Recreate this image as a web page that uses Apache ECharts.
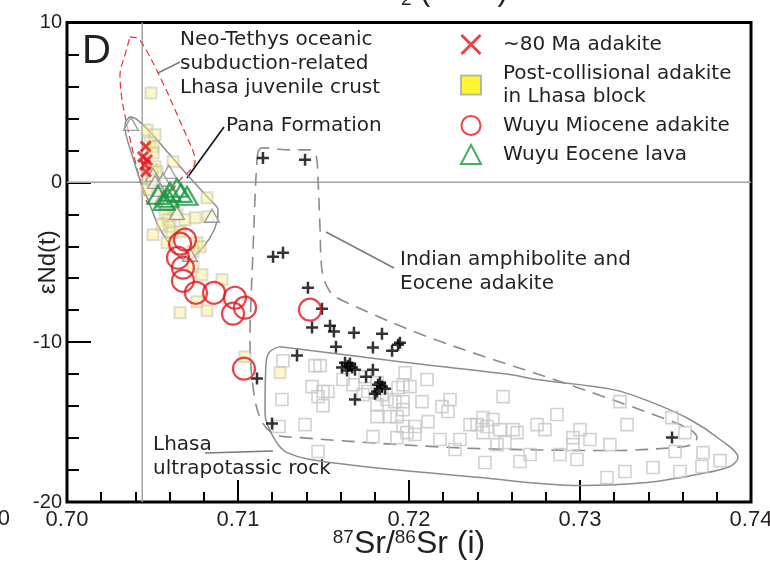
<!DOCTYPE html>
<html>
<head>
<meta charset="utf-8">
<script src="https://cdn.jsdelivr.net/npm/echarts@6/dist/echarts.min.js"></script>
<style>
  html, body { margin: 0; padding: 0; background: #fff; }
  #chart { width: 770px; height: 568px; }
</style>
</head>
<body>
<div id="chart"></div>
<script>
// 87Sr/86Sr(i) vs eNd(t) discrimination plot, panel D

const xTicks = [0.70, 0.71, 0.72, 0.73, 0.74];
const yTicks = [-20, -10, 0, 10];

// ~80 Ma adakite
const adakite80 = [[0.70460, 2.24], [0.70444, 1.59], [0.70468, 1.40], [0.70456, 1.09], [0.70462, 0.66]];

// Post-collisional adakite in Lhasa block
const postCollisional = [
  [0.70491, 5.59], [0.70468, 3.28], [0.70515, 2.97], [0.70485, 2.47], [0.70503, 2.22],
  [0.70503, 1.84], [0.70620, 1.28], [0.70515, 0.97], [0.70497, 0.78], [0.70526, 0.66],
  [0.70474, 0.28], [0.70497, 0.16], [0.70468, -0.47], [0.70544, -0.47], [0.70591, -1.28],
  [0.70620, -1.72], [0.70643, -2.03], [0.70573, -1.91], [0.70591, -2.34], [0.70556, -2.66],
  [0.70602, -2.78], [0.70614, -3.16], [0.70503, -3.28], [0.70585, -3.78], [0.70661, -3.09],
  [0.70690, -2.34], [0.70749, -2.22], [0.70825, -2.16], [0.70819, -0.97], [0.70760, -3.78],
  [0.70778, -4.03], [0.70737, -4.34], [0.70737, -5.28], [0.70789, -5.78], [0.70906, -6.09],
  [0.70661, -8.16], [0.70819, -8.03], [0.70760, -7.47], [0.71041, -10.91], [0.71246, -11.91]
];

// Wuyu Miocene adakite
const wuyuMiocene = [
  [0.70690, -3.59], [0.70661, -3.84], [0.70649, -4.72], [0.70678, -5.34], [0.70678, -6.16],
  [0.70754, -6.91], [0.70860, -6.91], [0.70982, -7.22], [0.71041, -7.84], [0.70971, -8.22],
  [0.71421, -7.97], [0.71035, -11.66]
];

// Wuyu Eocene lava
const wuyuEocene = [
  [0.70532, -0.78], [0.70567, -1.16], [0.70602, -0.59], [0.70643, -0.34], [0.70667, -0.66],
  [0.70702, -0.84], [0.70591, -0.97]
];

// Pana Formation
const panaFormation = [
  [0.70374, 3.66], [0.70503, 0.47], [0.70596, 0.66], [0.70561, 0.16], [0.70515, 0.03],
  [0.70556, -0.97], [0.70585, -1.28], [0.70643, -1.91], [0.70848, -2.09], [0.70719, -4.53],
  [0.70544, -0.47]
];

// Indian amphibolite and Eocene adakite
const indianAmphibolite = [
  [0.71146, 1.53], [0.71392, 1.41], [0.71205, -4.66], [0.71263, -4.41], [0.71409, -6.59],
  [0.71491, -7.91], [0.71433, -9.09], [0.71538, -8.97], [0.71561, -9.34], [0.71678, -9.41],
  [0.71842, -9.47], [0.71573, -10.28], [0.71789, -10.34], [0.71901, -10.53], [0.71947, -10.03],
  [0.71936, -10.16], [0.71345, -10.84], [0.71608, -11.59], [0.71626, -11.28], [0.71643, -11.47],
  [0.71655, -11.34], [0.71667, -11.59], [0.71684, -11.72], [0.71637, -11.78], [0.71789, -11.72],
  [0.71749, -12.16], [0.71819, -12.66], [0.71830, -12.53], [0.71842, -12.78], [0.71860, -12.91],
  [0.71813, -13.09], [0.71801, -13.22], [0.71684, -13.59], [0.71111, -12.28], [0.71199, -15.09],
  [0.73538, -15.97]
];

// Lhasa ultrapotassic rock
const ultrapotassic = [
  [0.71263, -11.16], [0.71257, -13.59], [0.71240, -15.28], [0.71392, -15.16], [0.71450, -11.47],
  [0.71480, -11.47], [0.71433, -12.78], [0.71497, -13.09], [0.71526, -13.09], [0.71468, -13.41],
  [0.71497, -13.97], [0.71614, -12.34], [0.71673, -12.66], [0.71743, -12.16], [0.71813, -12.53],
  [0.71731, -13.28], [0.71760, -13.09], [0.71842, -13.28], [0.71871, -13.59], [0.71918, -13.72],
  [0.71813, -13.91], [0.71977, -11.91], [0.72105, -12.34], [0.71965, -12.66], [0.72006, -12.78],
  [0.71936, -12.84], [0.72076, -13.72], [0.71965, -13.72], [0.71813, -14.66], [0.71889, -14.66],
  [0.71930, -14.66], [0.71965, -14.22], [0.72111, -14.97], [0.72035, -15.28], [0.71965, -15.28],
  [0.71930, -15.97], [0.71988, -15.66], [0.72035, -15.78], [0.71789, -15.91], [0.72193, -14.03],
  [0.72240, -13.59], [0.72228, -14.34], [0.71468, -16.84], [0.72357, -15.16], [0.72398, -15.16],
  [0.72433, -14.72], [0.72491, -14.84], [0.72456, -15.28], [0.72433, -15.66], [0.72532, -15.47],
  [0.72550, -13.41], [0.72515, -16.41], [0.72444, -17.53], [0.72608, -15.47], [0.72632, -15.66],
  [0.72749, -15.16], [0.72795, -15.47], [0.72865, -14.53], [0.72959, -15.97], [0.72959, -16.41],
  [0.72982, -17.34], [0.72561, -16.28], [0.73158, -18.47], [0.73263, -18.09], [0.73427, -17.84],
  [0.73585, -18.09], [0.73713, -17.78], [0.73719, -16.91], [0.73819, -17.41], [0.73556, -16.84],
  [0.73614, -15.66], [0.73538, -14.72], [0.73275, -15.16], [0.73234, -13.72], [0.72269, -16.72],
  [0.72181, -16.09], [0.72708, -17.03], [0.72649, -17.47], [0.72883, -17.03], [0.73000, -15.47],
  [0.73058, -16.09], [0.73175, -16.41], [0.72298, -16.09]
];

// Field outlines
const neoTethysField = [
  [0.70368, 9.09], [0.70409, 9.03], [0.70456, 8.41], [0.70561, 6.22], [0.70637, 4.41],
  [0.70696, 2.97], [0.70743, 1.78], [0.70749, 1.28], [0.70661, 0.16], [0.70573, -0.97],
  [0.70485, -1.41], [0.70444, -0.47], [0.70404, 1.09], [0.70357, 3.28], [0.70322, 5.16],
  [0.70310, 6.72], [0.70339, 7.97], [0.70368, 9.09]
];
const panaField = [
  [0.70351, 3.91], [0.70368, 4.09], [0.70404, 3.97], [0.70485, 3.16], [0.70602, 1.72],
  [0.70719, 0.28], [0.70836, -1.09], [0.70883, -1.72], [0.70877, -2.47], [0.70836, -3.47],
  [0.70766, -4.41], [0.70708, -4.84], [0.70661, -4.72], [0.70602, -3.91], [0.70532, -2.66],
  [0.70474, -1.09], [0.70427, 0.16], [0.70380, 1.72], [0.70345, 2.97], [0.70339, 3.59],
  [0.70351, 3.91]
];
const indianField = [
  [0.71117, 1.91], [0.71140, 2.16], [0.71304, 2.03], [0.71421, 2.03], [0.71456, 1.72],
  [0.71468, 0.16], [0.71480, -2.97], [0.71491, -5.47], [0.71538, -6.84], [0.71626, -7.47],
  [0.72123, -9.72], [0.72901, -12.53], [0.73509, -14.84], [0.73643, -15.47], [0.73684, -15.97],
  [0.73655, -16.41], [0.73556, -16.59], [0.73193, -16.78], [0.72415, -16.66], [0.71947, -16.41],
  [0.71363, -15.97], [0.71216, -15.78], [0.71140, -14.97], [0.71094, -13.28], [0.71070, -9.84],
  [0.71076, -7.34], [0.71088, -4.22], [0.71099, -1.09], [0.71111, 1.41], [0.71117, 1.91]
];
const ultrapotassicField = [
  [0.71246, -10.28], [0.71947, -11.22], [0.72591, -12.03], [0.72749, -12.34], [0.73193, -12.97],
  [0.73409, -13.72], [0.73643, -14.84], [0.73819, -16.09], [0.73924, -17.22], [0.73877, -17.78],
  [0.73684, -18.28], [0.73392, -18.78], [0.73000, -18.97], [0.72415, -18.47], [0.71538, -17.53],
  [0.71287, -16.91], [0.71205, -15.91], [0.71158, -14.41], [0.71164, -11.28], [0.71187, -10.59],
  [0.71246, -10.28]
];

// Reference values: CHUR (eNd = 0) and bulk-earth Sr
const ndZero = 0;
const srBulk = 0.7044;

const INK = '#231f20';
const FONT = "'Liberation Sans', Arial, Helvetica, sans-serif";
const TEXT_FONT = "'DejaVu Sans', 'Liberation Sans', sans-serif";
const GRID = { left: 67, right: 19, top: 22.5, bottom: 66 };

const CROSS = 'path://M0,0L10,10M10,0L0,10';
const PLUS = 'path://M5,0L5,10M0,5L10,5';

function field(data, color, dash, width) {
  return {
    type: 'line', data: data, symbol: 'none', smooth: 0.35, silent: true, z: 1,
    lineStyle: { color: color, width: width, type: dash || 'solid' }
  };
}

const chart = echarts.init(document.getElementById('chart'), null, { renderer: 'canvas' });

const series = [
  // reference lines
  { type: 'line', data: [[xTicks[0], ndZero], [xTicks[xTicks.length - 1], ndZero]], symbol: 'none', silent: true,
    lineStyle: { color: '#a3a3a3', width: 1.5 }, z: 1 },
  { type: 'line', data: [[srBulk, yTicks[0]], [srBulk, yTicks[yTicks.length - 1]]], symbol: 'none', silent: true,
    lineStyle: { color: '#a3a3a3', width: 1.5 }, z: 1 },
  // fields
  field(neoTethysField, '#e8303a', [7, 4], 1.2),
  field(panaField, '#8c8c8c', null, 1.5),
  field(indianField, '#8c8c8c', [13, 8], 1.6),
  field(ultrapotassicField, '#8c8c8c', null, 1.5),
  // samples
  { name: 'Lhasa ultrapotassic rock', type: 'scatter', data: ultrapotassic, symbol: 'rect', symbolSize: 12,
    itemStyle: { color: 'rgba(255,255,255,0)', borderColor: '#c6c6c6', borderWidth: 1.6 }, z: 3 },
  { name: 'Post-collisional adakite in Lhasa block', type: 'scatter', data: postCollisional, symbol: 'rect', symbolSize: 11,
    itemStyle: { color: 'rgba(253,238,130,0.55)', borderColor: 'rgba(180,180,170,0.55)', borderWidth: 2 }, z: 3 },
  { name: 'Indian amphibolite and Eocene adakite', type: 'scatter', data: indianAmphibolite, symbol: PLUS, symbolSize: 12,
    itemStyle: { color: 'rgba(0,0,0,0)', borderColor: '#000', borderWidth: 2.5 }, z: 4 },
  { name: 'Pana Formation', type: 'scatter', data: panaFormation, symbol: 'triangle', symbolSize: [15, 13],
    itemStyle: { color: 'rgba(255,255,255,0.7)', borderColor: '#8a8a8a', borderWidth: 1.4 }, z: 4 },
  { name: 'Wuyu Eocene lava', type: 'scatter', data: wuyuEocene, symbol: 'triangle', symbolSize: [21, 18],
    itemStyle: { color: 'rgba(255,255,255,0)', borderColor: '#13993c', borderWidth: 2.2 }, z: 5 },
  { name: '~80 Ma adakite', type: 'scatter', data: adakite80, symbol: CROSS, symbolSize: 10,
    itemStyle: { color: 'rgba(0,0,0,0)', borderColor: '#e6141b', borderWidth: 3 }, z: 5 },
  { name: 'Wuyu Miocene adakite', type: 'scatter', data: wuyuMiocene, symbol: 'circle', symbolSize: 22,
    itemStyle: { color: 'rgba(255,255,255,0)', borderColor: '#e3151c', borderWidth: 2.2 }, z: 6 }
];

const option = {
  animation: false,
  backgroundColor: '#fff',
  grid: { ...GRID, show: true, borderColor: '#000', borderWidth: 3, backgroundColor: 'transparent',
    containLabel: false, outerBoundsMode: 'none' },
  xAxis: {
    type: 'value', min: xTicks[0], max: xTicks[xTicks.length - 1], interval: 0.01,
    axisLine: { show: false, onZero: false },
    axisTick: { show: true, inside: true, length: 22, lineStyle: { color: '#000', width: 2 } },
    minorTick: { show: true, splitNumber: 5, length: 10, lineStyle: { color: '#000', width: 2 } },
    splitLine: { show: false },
    axisLabel: { fontFamily: FONT, fontSize: 22, color: INK, margin: 7,
      formatter: v => v.toFixed(2) },
    name: '{s|87}Sr/{s|86}Sr (i)', nameLocation: 'middle', nameGap: 26, nameMoveOverlap: false,
    nameTextStyle: { fontFamily: FONT, fontSize: 32, color: INK, verticalAlign: 'top',
      rich: { s: { fontFamily: FONT, fontSize: 19, color: INK, padding: [0, 0, 13, 0] } } }
  },
  yAxis: {
    type: 'value', min: yTicks[0], max: yTicks[yTicks.length - 1], interval: 10,
    axisLine: { show: false, onZero: false },
    axisTick: { show: true, inside: true, length: 24, lineStyle: { color: '#000', width: 2 } },
    minorTick: { show: true, splitNumber: 5, length: 12, lineStyle: { color: '#000', width: 2 } },
    splitLine: { show: false },
    axisLabel: { fontFamily: FONT, fontSize: 20, color: INK, margin: 5 },
    name: 'εNd(t)', nameLocation: 'middle', nameGap: 7, nameRotate: 90, nameMoveOverlap: false,
    nameTextStyle: { fontFamily: FONT, fontSize: 24, color: INK }
  },
  legend: {
    left: 460, top: 33, orient: 'vertical', itemWidth: 20, itemHeight: 19, itemGap: 6, padding: 0,
    selectedMode: false,
    textStyle: { fontFamily: TEXT_FONT, fontSize: 20, color: INK, lineHeight: 23, padding: [0, 0, 0, 17] },
    formatter: name => name === 'Post-collisional adakite in Lhasa block' ? 'Post-collisional adakite\nin Lhasa block' : name,
    data: [
      { name: '~80 Ma adakite', itemStyle: { borderWidth: 3 } },
      { name: 'Post-collisional adakite in Lhasa block', icon: 'rect',
        itemStyle: { color: '#fff200', borderColor: '#a8a8a8', borderWidth: 2 } },
      { name: 'Wuyu Miocene adakite', itemStyle: { borderWidth: 2 } },
      { name: 'Wuyu Eocene lava', itemStyle: { borderWidth: 2 } }
    ]
  },
  graphic: [
    { type: 'text', left: 82, top: 32, style: { text: 'D', font: `40px ${FONT}`, fill: INK } },
    { type: 'text', left: 180, top: 28, style: { text: 'Neo-Tethys oceanic\nsubduction-related\nLhasa juvenile crust',
      font: `20px ${TEXT_FONT}`, fill: INK, lineHeight: 24 } },
    { type: 'line', shape: { x1: 158, y1: 73, x2: 180, y2: 62 }, style: { stroke: '#7a7a7a', lineWidth: 1.5 } },
    { type: 'text', left: 226, top: 116, style: { text: 'Pana Formation', font: `20px ${TEXT_FONT}`, fill: INK } },
    { type: 'line', shape: { x1: 224, y1: 127, x2: 187, y2: 178 }, style: { stroke: '#111', lineWidth: 1.6 } },
    { type: 'text', left: 400, top: 248, style: { text: 'Indian amphibolite and\nEocene adakite',
      font: `20px ${TEXT_FONT}`, fill: INK, lineHeight: 24 } },
    { type: 'line', shape: { x1: 326, y1: 232, x2: 394, y2: 268 }, style: { stroke: '#7a7a7a', lineWidth: 1.5 } },
    { type: 'text', left: 153, top: 433, style: { text: 'Lhasa\nultrapotassic rock',
      font: `20px ${TEXT_FONT}`, fill: INK, lineHeight: 24 } },
    { type: 'line', shape: { x1: 205, y1: 453, x2: 273, y2: 451 }, style: { stroke: '#7a7a7a', lineWidth: 1.5 } },
    // neighbouring panel labels at the edges
    { type: 'text', left: 348, top: -24, style: { text: 'SiO', font: `31px ${FONT}`, fill: INK } },
    { type: 'text', left: 401, top: -10, style: { text: '2', font: `19px ${FONT}`, fill: INK } },
    { type: 'text', left: 420, top: -24, style: { text: '(wt.%)', font: `31px ${FONT}`, fill: INK } },
    { type: 'text', right: 760, top: 508, style: { text: '0', font: `22px ${FONT}`, fill: INK } }
  ],
  series: series
};

chart.setOption(option);
</script>
</body>
</html>
